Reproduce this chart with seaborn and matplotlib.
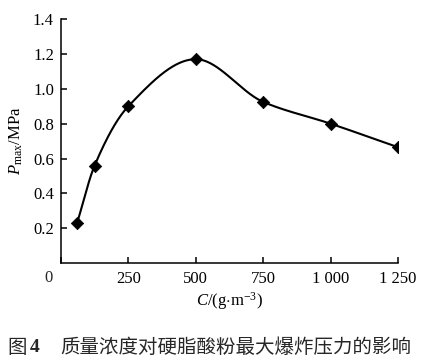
import numpy as np
import pandas as pd
import matplotlib
matplotlib.use("Agg")
import matplotlib.pyplot as plt
import seaborn as sns

# mass concentration (g/m^3) and max explosion pressure (MPa)
conc = [60, 125, 250, 500, 750, 1000, 1250]
p_max = [0.23, 0.56, 0.90, 1.17, 0.925, 0.80, 0.665]
x_ticks = [0, 250, 500, 750, 1000, 1250]
x_tick_labels = ["", "250", "500", "750", "1 000", "1 250"]
y_ticks = [0.2, 0.4, 0.6, 0.8, 1.0, 1.2, 1.4]

sns.set_theme(style="ticks")
plt.rcParams['font.family'] = ['Liberation Serif', 'Noto Sans CJK SC']
plt.rcParams['mathtext.fontset'] = 'custom'
plt.rcParams['mathtext.rm'] = 'Liberation Serif'
plt.rcParams['mathtext.it'] = 'Liberation Serif:italic'


def pchip(x, y, n=300):
    # monotone cubic through the points (smoothed line like the original)
    x = np.asarray(x, float)
    y = np.asarray(y, float)
    h = np.diff(x)
    d = np.diff(y) / h
    k = len(x)
    m = np.zeros(k)
    for i in range(1, k - 1):
        if d[i - 1] * d[i] > 0:
            w1 = 2 * h[i] + h[i - 1]
            w2 = h[i] + 2 * h[i - 1]
            m[i] = (w1 + w2) / (w1 / d[i - 1] + w2 / d[i])
    m[0] = d[0]
    m[-1] = d[-1]
    xs = np.linspace(x[0], x[-1], n)
    idx = np.clip(np.searchsorted(x, xs) - 1, 0, k - 2)
    hh = h[idx]
    t = (xs - x[idx]) / hh
    h00 = 2 * t ** 3 - 3 * t ** 2 + 1
    h10 = t ** 3 - 2 * t ** 2 + t
    h01 = -2 * t ** 3 + 3 * t ** 2
    h11 = t ** 3 - t ** 2
    ys = h00 * y[idx] + h10 * hh * m[idx] + h01 * y[idx + 1] + h11 * hh * m[idx + 1]
    return xs, ys


df = pd.DataFrame({"conc": conc, "p": p_max})
xs, ys = pchip(conc, p_max)

fig = plt.figure(figsize=(4.23, 3.6), dpi=100)
ax = fig.add_axes([0.144, 0.269, 0.797, 0.678])

ax.plot(xs, ys, color="black", lw=1.5)
sns.scatterplot(data=df, x="conc", y="p", marker="D", s=40, color="black",
                edgecolor="black", ax=ax, zorder=3)

ax.set_xlim(0, 1250)
ax.set_ylim(0, 1.4)
ax.set_xticks(x_ticks)
ax.set_xticklabels(x_tick_labels)
ax.set_yticks(y_ticks)
ax.set_yticklabels([f"{v:.1f}" for v in y_ticks])
sns.despine(ax=ax)
for s in ["left", "bottom"]:
    ax.spines[s].set_linewidth(1.1)
    ax.spines[s].set_color("black")
ax.tick_params(direction="in", length=4, width=1.1, colors="black",
               labelsize=12, pad=5)
ax.tick_params(axis="x", pad=6)

# origin label sits left of the axis
ax.annotate("0", xy=(0, 0), xycoords="data", xytext=(-8, -15),
            textcoords="offset pixels", ha="right", va="center", fontsize=12)

ax.set_xlabel(r"$C$/(g$\cdot$m$^{-3}$)", fontsize=12, labelpad=2, color="black")
ax.set_ylabel(r"$P_{\mathrm{max}}$/MPa", fontsize=12, labelpad=6, color="black")

fig.text(0.017, 0.036, "图", fontsize=14, va="center", family=['Noto Sans CJK SC'])
fig.text(0.07, 0.036, "4", fontsize=14, va="center", fontweight="bold",
         family=['Liberation Serif'])
fig.text(0.142, 0.036, "质量浓度对硬脂酸粉最大爆炸压力的影响", fontsize=14,
         va="center", family=['Noto Sans CJK SC'])

fig.savefig("out.png", dpi=100)
